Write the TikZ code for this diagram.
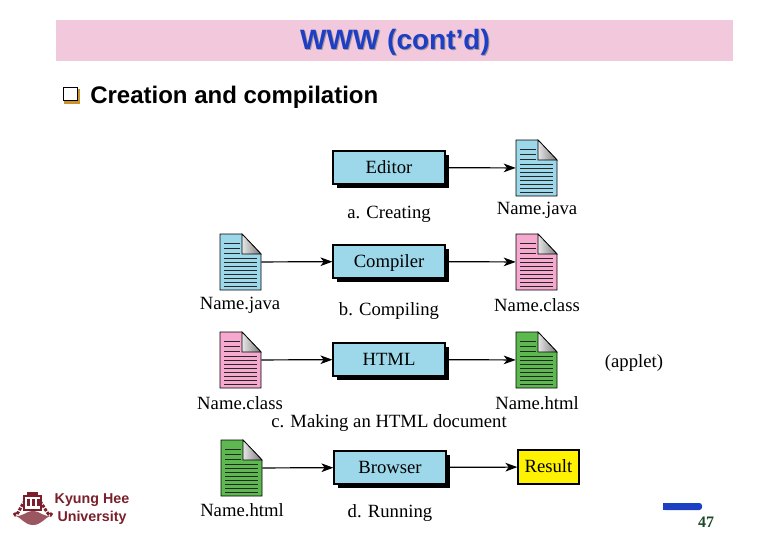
\documentclass[tikz,border=0pt]{standalone}
\usepackage{fontspec}
\setmainfont{Liberation Serif}
\newfontfamily\headfont{Liberation Sans}
\usetikzlibrary{arrows.meta, shadows}
\definecolor{bandpink}{HTML}{F2C9DC}
\definecolor{titleblue}{HTML}{1C3FC4}
\definecolor{toolblue}{HTML}{9CD8EA}
\definecolor{docpink}{HTML}{F5A9CF}
\definecolor{docgreen}{HTML}{5DB84F}
\definecolor{khmaroon}{HTML}{7A1F2B}
\definecolor{bulletgold}{HTML}{C8922E}
\definecolor{pagegreen}{HTML}{1F4A2A}
\tikzset{
	toolbox/.style={draw=black, line width=0.9pt, fill=toolblue, minimum width=84pt, minimum height=24.75pt, inner sep=0pt, text height=12pt, text depth=2.5pt, font=\fontsize{14}{14}\selectfont,
		drop shadow={shadow xshift=3pt, shadow yshift=-3pt, fill=black, opacity=1}},
	docbox/.style={minimum width=30.75pt, minimum height=42pt, inner sep=0pt},
	plainlabel/.style={inner sep=0pt, font=\fontsize{14}{14}\selectfont},
	flow/.style={line width=0.9pt, -{Stealth[length=9pt, width=6.5pt, inset=2.5pt]}},
}
% one file icon: name, top left corner, colour
\newcommand{\docicon}[3]{
	\begin{scope}[shift={(#2)}]
		\node [docbox] (#1) at (20.5,28) {};
		\draw [fill=#3, line width=0.7pt] (0,0) -- (22,0) -- (41,20) -- (41,56) -- (0,56) -- cycle;
		\shade [left color=gray!20, right color=gray!95!black, draw=black, line width=0.5pt] (22,0) -- (41,20) -- (22,20) -- cycle;
		\foreach \ly in {9,14,19} \draw [line width=0.6pt, black!85] (4,\ly) -- (20,\ly);
		\foreach \ly in {24,28,32,36,40,44,48,52} \draw [line width=0.7pt, black!85] (4,\ly) -- (37,\ly);
	\end{scope}
}
\begin{document}
\begin{tikzpicture}[x=0.75pt, y=-0.75pt]
	\useasboundingbox (0,0) rectangle (780,540);
	%title
	\fill [bandpink] (56,20) rectangle (733,61);
	\node [inner sep=0pt, text=gray!70!bandpink, font=\headfont\bfseries\fontsize{21}{21}\selectfont] (titleshade) at (396,43.5) {WWW (cont’d)};
	\node [inner sep=0pt, text=titleblue, font=\headfont\bfseries\fontsize{21}{21}\selectfont] (title) at (395,42.5) {WWW (cont’d)};
	%bullet
	\fill [bulletgold] (64,89) rectangle (80,104);
	\draw [fill=white, line width=0.7pt] (63.5,87.5) rectangle (77,100.5);
	\node [anchor=west, inner sep=0pt, font=\headfont\bfseries\fontsize{18}{18}\selectfont] (subhead) at (90,97.5) {Creation and compilation};
	%row a
	\node [toolbox] (editor) at (389,167.5) {Editor};
	\docicon{javaA}{516,140}{toolblue}
	\draw [flow] (editor) -- (javaA);
	\node [plainlabel] (javaAname) at (537,210) {Name.java};
	\node [plainlabel] (capA) at (389,214) {a. Creating};
	%row b
	\docicon{javaB}{220,234}{toolblue}
	\node [toolbox] (compiler) at (389,261.5) {Compiler};
	\docicon{classB}{516,234}{docpink}
	\draw [flow] (javaB) -- (compiler);
	\draw [flow] (compiler) -- (classB);
	\node [plainlabel] (javaBname) at (240,305) {Name.java};
	\node [plainlabel] (capB) at (389,311) {b. Compiling};
	\node [plainlabel] (classBname) at (537,305) {Name.class};
	%row c
	\docicon{classC}{220,332}{docpink}
	\node [toolbox] (htmltool) at (389,359.5) {HTML};
	\docicon{htmlC}{516,332}{docgreen}
	\draw [flow] (classC) -- (htmltool);
	\draw [flow] (htmltool) -- (htmlC);
	\node [plainlabel] (applet) at (634,363) {(applet)};
	\node [plainlabel] (classCname) at (240,403) {Name.class};
	\node [plainlabel] (htmlCname) at (537,403) {Name.html};
	\node [plainlabel] (capC) at (389,423) {c. Making an HTML document};
	%row d
	\docicon{htmlD}{221,440}{docgreen}
	\node [toolbox] (browser) at (390,467.5) {Browser};
	\node [draw=black, line width=0.9pt, fill=yellow, minimum width=45.75pt, minimum height=25.5pt, inner sep=0pt, text height=11pt, text depth=2.5pt, font=\fontsize{14}{14}\selectfont] (result) at (548.5,467) {Result};
	\draw [flow] (htmlD) -- (browser);
	\draw [flow] (browser) -- (result);
	\node [plainlabel] (htmlDname) at (242,510) {Name.html};
	\node [plainlabel] (capD) at (390,513) {d. Running};
	%logo
	\draw [khmaroon, line width=2.2pt, densely dotted] (14,513) to [out=-70, in=180] (32,496);
	\draw [khmaroon, line width=2.2pt, densely dotted] (52,513) to [out=-110, in=0] (32,496);
	\fill [khmaroon!75] (14,515) to [out=-30, in=180] (33,511) to [out=0, in=210] (52,515) to [out=200, in=0] (33,525) to [out=180, in=-20] cycle;
	\draw [khmaroon, fill=white, line width=0.8pt] (24,496) rectangle (41,510);
	\fill [khmaroon] (27,492) rectangle (38,497);
	\foreach \wx in {27,32,37} \fill [khmaroon] (\wx,499) rectangle +(2.5,7);
	\node [inner sep=0pt, text=khmaroon, font=\headfont\bfseries\fontsize{10.7}{10.7}\selectfont] (khname) at (92,500) {Kyung Hee};
	\node [inner sep=0pt, text=khmaroon, font=\headfont\bfseries\fontsize{10.7}{10.7}\selectfont] (khuni) at (92,517.5) {University};
	%page mark
	\fill [titleblue, rounded corners=2pt] (663,503) -- (702,503) -- (702,510) -- (663,510) -- cycle;
	\fill [titleblue] (663,503) rectangle (695,510);
	\node [inner sep=0pt, text=pagegreen, font=\bfseries\fontsize{12}{12}\selectfont] (pagenum) at (706,522.5) {47};
\end{tikzpicture}
\end{document}
